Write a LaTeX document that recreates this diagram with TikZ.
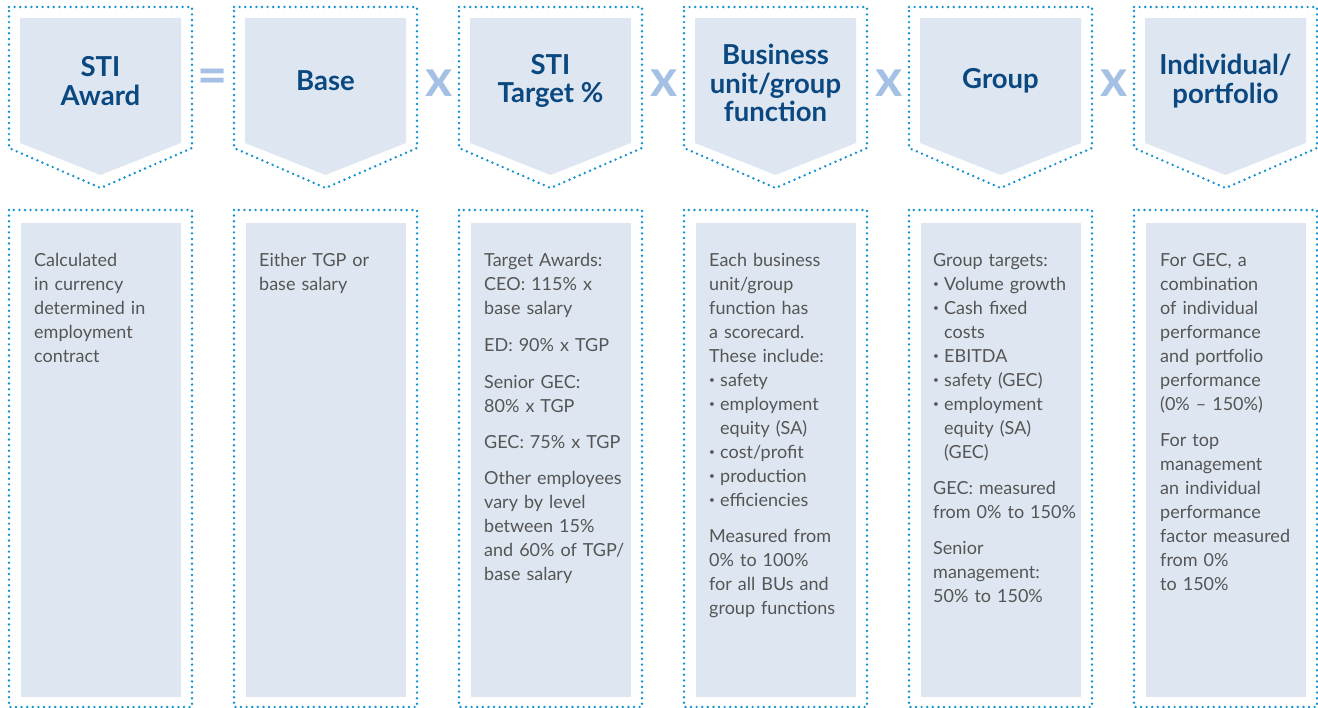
\documentclass[tikz,border=0pt]{standalone}
\usepackage{fontspec}
\setmainfont{Lato}

\definecolor{dotblue}{HTML}{1592CF}
\definecolor{paleblue}{HTML}{DEE7F1}
\definecolor{headblue}{HTML}{0B4880}
\definecolor{opblue}{HTML}{A4C0E4}
\definecolor{bodygrey}{HTML}{555555}

% bullet item and hanging indent for the lists
\newcommand{\itm}{\makebox[11pt][l]{\raisebox{0.35ex}{\fontsize{10}{10}\selectfont\textbullet}}}
\newcommand{\ind}{\hspace*{11pt}}

\tikzset{
  dots/.style={draw=dotblue, line width=2.7pt, line cap=round, dash pattern=on 0pt off 5.6pt},
  head/.style={font=\bfseries\fontsize{27.5}{28.5}\selectfont, text=headblue, align=center, inner sep=0pt},
  body/.style={font=\fontsize{18}{24}\selectfont, text=bodygrey, align=left, text width=165pt, anchor=north west, inner sep=0pt},
  op/.style={font=\bfseries\fontsize{52}{52}\selectfont, text=opblue, inner sep=0pt}
}

\begin{document}
\begin{tikzpicture}[x=1pt,y=-1pt]
\useasboundingbox (0,0) rectangle (1318,708);

% six columns: chevron on top, box below
\foreach \i in {0,...,5}{
  \begin{scope}[xshift=225*\i]
    \fill[paleblue] (20,18) -- (181,18) -- (181,143) -- (100.5,175) -- (20,143) -- cycle;
    \draw[dots] (9,7) -- (192,7) -- (192,148) -- (100.5,188) -- (9,148) -- cycle;
    \fill[paleblue] (21,223) rectangle (181,697);
    \draw[dots] (9,210) rectangle (192,707);
  \end{scope}
}

% headings
\node[head] (award) at (100.5,81) {STI\\Award};
\node[head] (base) at (325.5,81) {Base};
\node[head] (target) at (550.5,81) {STI\\Target \%};
\node[head] (unit) at (775.5,83) {Business\\unit/group\\function};
\node[head] (group) at (1000.5,81) {Group};
\node[head] (indiv) at (1225.5,81) {Individual/\\portfolio};

% operators
\node[op] (eq) at (213,81) {=};
\node[op] (x1) at (439,83) {x};
\node[op] (x2) at (664,83) {x};
\node[op] (x3) at (889,83) {x};
\node[op] (x4) at (1114,83) {x};

% body texts
\node[body] (awardtxt) at (34,253) {Calculated\\in currency\\determined in\\employment\\contract};
\node[body] (basetxt) at (259,253) {Either TGP or\\base salary};
\node[body] (targettxt) at (484,253) {Target Awards:\\CEO: 115\% x\\base salary\\[13pt]ED: 90\% x TGP\\[13pt]Senior GEC:\\80\% x TGP\\[12pt]GEC: 75\% x TGP\\[12pt]Other employees\\vary by level\\between 15\%\\and 60\% of TGP/\\base salary};
\node[body] (unittxt) at (709,253) {Each business\\unit/group\\function has\\a scorecard.\\These include:\\\itm safety\\\itm employment\\\ind equity (SA)\\\itm cost/profit\\\itm production\\\itm efficiencies\\[12pt]Measured from\\0\% to 100\%\\for all BUs and\\group functions};
\node[body] (grouptxt) at (933,253) {Group targets:\\\itm Volume growth\\\itm Cash fixed\\\ind costs\\\itm EBITDA\\\itm safety (GEC)\\\itm employment\\\ind equity (SA)\\\ind (GEC)\\[12pt]GEC: measured\\from 0\% to 150\%\\[12pt]Senior\\management:\\50\% to 150\%};
\node[body] (indivtxt) at (1160,253) {For GEC, a\\combination\\of individual\\performance\\and portfolio\\performance\\(0\% -- 150\%)\\[12pt]For top\\management\\an individual\\performance\\factor measured\\from 0\%\\to 150\%};
\end{tikzpicture}
\end{document}
